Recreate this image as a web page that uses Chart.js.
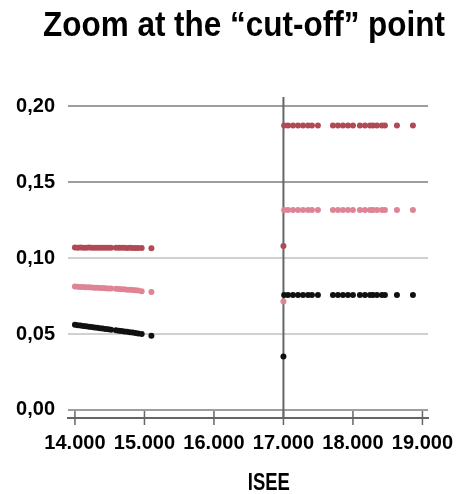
<!DOCTYPE html>
<html>
<head>
<meta charset="utf-8">
<script src="https://cdn.jsdelivr.net/npm/chart.js@4.4.1/dist/chart.umd.min.js"></script>
<style>
  html, body { margin: 0; padding: 0; background: #fff; }
</style>
</head>
<body>
<canvas id="chart" width="457" height="494"></canvas>
<script>
// ISEE values where the points sit: below the cut-off, at it, above it
const iseeBelow = [14000, 14040, 14080, 14120, 14160, 14200, 14240, 14280, 14320, 14360,
                   14400, 14440, 14480, 14520, 14590, 14630, 14670, 14710, 14750, 14790,
                   14830, 14870, 14910, 14960, 15100];
const iseeCutoff = [17000];
const iseeAbove = [17010, 17065, 17137, 17209, 17281, 17353, 17410, 17496, 17712, 17784,
                   17856, 17928, 18000, 18100, 18173, 18245, 18288, 18345, 18417, 18460,
                   18633, 18863];

const redBelow = [0.1069, 0.1068, 0.1069, 0.1068, 0.1068, 0.1069, 0.1068, 0.1068, 0.1067, 0.1068,
                  0.1068, 0.1067, 0.1068, 0.1067, 0.1067, 0.1068, 0.1067, 0.1067, 0.1066, 0.1067,
                  0.1066, 0.1066, 0.1066, 0.1066, 0.1065];
const pinkBelow = [0.0812, 0.0811, 0.0810, 0.0809, 0.0808, 0.0807, 0.0806, 0.0805, 0.0804, 0.0803,
                   0.0802, 0.0801, 0.0800, 0.0799, 0.0797, 0.0796, 0.0795, 0.0794, 0.0792, 0.0791,
                   0.0790, 0.0788, 0.0786, 0.0782, 0.0777];
const blackBelow = [0.0561, 0.0558, 0.0556, 0.0553, 0.0551, 0.0548, 0.0546, 0.0543, 0.0541, 0.0538,
                    0.0536, 0.0533, 0.0531, 0.0528, 0.0524, 0.0521, 0.0519, 0.0516, 0.0514, 0.0511,
                    0.0509, 0.0506, 0.0504, 0.0500, 0.0489];

const redCutoff = [0.108];
const pinkCutoff = [0.0714];
const blackCutoff = [0.0352];

const redAbove = [0.1873, 0.1873, 0.1873, 0.1873, 0.1873, 0.1873, 0.1873, 0.1873, 0.1873, 0.1873,
                  0.1873, 0.1873, 0.1873, 0.1873, 0.1873, 0.1873, 0.1873, 0.1873, 0.1873, 0.1873,
                  0.1873, 0.1873];
const pinkAbove = [0.1316, 0.1316, 0.1316, 0.1316, 0.1316, 0.1316, 0.1316, 0.1316, 0.1316, 0.1316,
                   0.1316, 0.1316, 0.1316, 0.1316, 0.1316, 0.1316, 0.1316, 0.1316, 0.1316, 0.1316,
                   0.1316, 0.1316];
const blackAbove = [0.0757, 0.0757, 0.0757, 0.0757, 0.0757, 0.0757, 0.0757, 0.0757, 0.0757, 0.0757,
                    0.0757, 0.0757, 0.0757, 0.0757, 0.0757, 0.0757, 0.0757, 0.0757, 0.0757, 0.0757,
                    0.0757, 0.0757];

const xTicks = [14000, 15000, 16000, 17000, 18000, 19000];
const yTicks = [0, 0.05, 0.10, 0.15, 0.20];
const xMin = 13900, xMax = 19080;
const yMin = -0.0053, yMax = 0.206;
const cutoff = 17000;

const FONT = '"Liberation Sans", Arial, sans-serif';
const TITLE = 'Zoom at the \u201ccut-off\u201d point';

function toPoints(xs, ys) {
  return xs.map((x, i) => ({ x: x, y: ys[i] }));
}
function series(below, at, above) {
  return toPoints(iseeBelow, below)
    .concat(toPoints(iseeCutoff, at))
    .concat(toPoints(iseeAbove, above));
}

// narrow title, tick marks crossing the x axis line, axis caption
const extras = {
  id: 'extras',
  afterDraw(chart) {
    const { ctx, chartArea, scales: { x } } = chart;
    ctx.save();
    ctx.strokeStyle = '#666';
    ctx.lineWidth = 1.5;
    x.ticks.forEach(t => {
      const px = x.getPixelForValue(t.value);
      ctx.beginPath();
      ctx.moveTo(px, chartArea.bottom - 7);
      ctx.lineTo(px, chartArea.bottom + 7);
      ctx.stroke();
    });
    ctx.fillStyle = '#000';
    ctx.textAlign = 'center';
    ctx.textBaseline = 'middle';
    ctx.font = 'bold 23px ' + FONT;
    ctx.fillText('ISEE', x.getPixelForValue(16790), 484, 42);
    ctx.font = 'bold 35px ' + FONT;
    ctx.fillText(TITLE, 244, 26, 402);
    ctx.restore();
  }
};

const ctx = document.getElementById('chart');

new Chart(ctx, {
  type: 'scatter',
  data: {
    datasets: [{
      label: 'black',
      data: series(blackBelow, blackCutoff, blackAbove),
      backgroundColor: '#111',
      borderColor: '#111',
      pointRadius: 3,
      pointBorderWidth: 0
    }, {
      label: 'pink',
      data: series(pinkBelow, pinkCutoff, pinkAbove),
      backgroundColor: '#de8494',
      borderColor: '#de8494',
      pointRadius: 3,
      pointBorderWidth: 0
    }, {
      label: 'red',
      data: series(redBelow, redCutoff, redAbove),
      backgroundColor: '#b04a54',
      borderColor: '#b04a54',
      pointRadius: 3,
      pointBorderWidth: 0
    }, {
      type: 'line',
      label: 'cutoff',
      data: [{ x: cutoff, y: yMin }, { x: cutoff, y: yMax }],
      borderColor: '#666',
      borderWidth: 2,
      pointRadius: 0
    }]
  },
  options: {
    responsive: false,
    animation: false,
    layout: { padding: { left: 0, right: 29, top: 97, bottom: 0 } },
    plugins: {
      legend: { display: false },
      tooltip: { enabled: false }
    },
    scales: {
      x: {
        type: 'linear',
        min: xMin,
        max: xMax,
        afterBuildTicks: s => { s.ticks = xTicks.map(v => ({ value: v })); },
        afterFit: s => { s.height = 76; s.paddingLeft = 0; s.paddingRight = 0; },
        border: { display: true, color: '#666', width: 2 },
        grid: { drawOnChartArea: false, drawTicks: false },
        ticks: {
          color: '#000',
          padding: 13,
          maxRotation: 0,
          font: { family: FONT, size: 20, weight: 'bold' },
          callback: v => (v / 1000).toFixed(3)
        }
      },
      y: {
        min: yMin,
        max: yMax,
        afterBuildTicks: s => { s.ticks = yTicks.map(v => ({ value: v })); },
        afterFit: s => { s.width = 68; s.paddingTop = 0; s.paddingBottom = 0; },
        border: { display: false },
        grid: {
          drawTicks: false,
          lineWidth: 2,
          color: c => (c.tick && (c.tick.value === 0.05 || c.tick.value === 0.10)) ? '#d0d0d0' : '#9e9e9e'
        },
        ticks: {
          color: '#000',
          padding: 13,
          font: { family: FONT, size: 20, weight: 'bold' },
          callback: v => v.toFixed(2).replace('.', ',')
        }
      }
    }
  },
  plugins: [extras]
});
</script>
</body>
</html>
